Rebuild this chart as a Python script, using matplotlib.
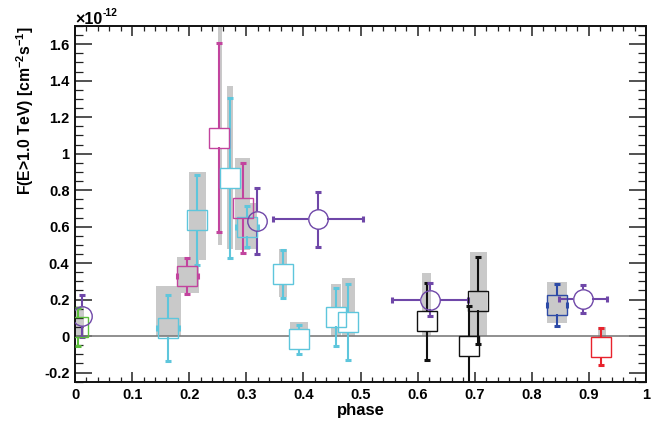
import matplotlib
matplotlib.use('Agg')
import matplotlib.pyplot as plt
from matplotlib.ticker import MultipleLocator, FuncFormatter

plt.rcParams['font.family'] = ['Liberation Sans', 'DejaVu Sans']
plt.rcParams['font.weight'] = 'bold'
plt.rcParams['mathtext.fontset'] = 'custom'
plt.rcParams['mathtext.rm'] = 'Liberation Sans:bold'
plt.rcParams['mathtext.it'] = 'Liberation Sans:bold'
plt.rcParams['mathtext.bf'] = 'Liberation Sans:bold'
plt.rcParams['mathtext.default'] = 'rm'

# ---------------- data (flux in units of 1e-12 cm^-2 s^-1) ----------------
# cyan squares
cyan_phase = [0.163, 0.213, 0.272, 0.301, 0.365, 0.393, 0.457, 0.478]
cyan_flux = [0.046, 0.636, 0.866, 0.600, 0.339, -0.018, 0.106, 0.078]
cyan_err = [0.180, 0.246, 0.439, 0.114, 0.131, 0.079, 0.159, 0.207]
cyan_xerr = [0.019, 0.0, 0.0, 0.019, 0.0, 0.0, 0.0, 0.0]
cyan_sys_x0 = [0.142, 0.199, 0.267, 0.287, 0.358, 0.376, 0.448, 0.468]
cyan_sys_x1 = [0.186, 0.229, 0.276, 0.318, 0.371, 0.408, 0.466, 0.490]
cyan_sys_lo = [0.0, 0.418, 0.48, 0.48, 0.213, -0.05, 0.0, 0.0]
cyan_sys_hi = [0.273, 0.901, 1.373, 0.73, 0.48, 0.076, 0.284, 0.318]
cyan_white = [False, False, True, False, True, True, True, True]

# magenta squares
mag_phase = [0.197, 0.253, 0.294]
mag_flux = [0.329, 1.088, 0.700]
mag_err = [0.098, 0.520, 0.247]
mag_xerr = [0.019, 0.0, 0.0]
mag_sys_x0 = [0.178, 0.251, 0.280]
mag_sys_x1 = [0.217, 0.257, 0.306]
mag_sys_lo = [0.236, 0.50, 0.473]
mag_sys_hi = [0.431, 1.75, 0.974]
mag_white = [False, True, False]

# black squares
blk_phase = [0.6165, 0.6894, 0.7058]
blk_flux = [0.082, -0.055, 0.194]
blk_err = [0.211, 0.222, 0.238]
blk_xerr = [0.0, 0.0, 0.0]
blk_sys_x0 = [0.608, 0.0, 0.692]
blk_sys_x1 = [0.623, 0.0, 0.722]
blk_sys_lo = [0.0, 0.0, 0.0]
blk_sys_hi = [0.345, 0.0, 0.462]
blk_white = [True, True, False]

# green square
grn_phase = [0.006]
grn_flux = [0.051]
grn_err = [0.103]
grn_xerr = [0.0]
grn_sys_x0 = [0.0]
grn_sys_x1 = [0.015]
grn_sys_lo = [0.0]
grn_sys_hi = [0.167]
grn_white = [False]

# blue square
blu_phase = [0.844]
blu_flux = [0.172]
blu_err = [0.115]
blu_xerr = [0.017]
blu_sys_x0 = [0.827]
blu_sys_x1 = [0.861]
blu_sys_lo = [0.07]
blu_sys_hi = [0.294]
blu_white = [False]

# red square
red_phase = [0.9218]
red_flux = [-0.059]
red_err = [0.102]
red_xerr = [0.0]
red_sys_x0 = [0.9165]
red_sys_x1 = [0.930]
red_sys_lo = [-0.06]
red_sys_hi = [0.052]
red_white = [True]

# purple circles
pur_phase = [0.012, 0.318, 0.425, 0.6217, 0.889]
pur_flux = [0.109, 0.630, 0.640, 0.200, 0.203]
pur_err = [0.115, 0.180, 0.150, 0.091, 0.077]
pur_xerr = [0.0, 0.0, 0.079, 0.067, 0.042]

x_ticks = [0, 0.1, 0.2, 0.3, 0.4, 0.5, 0.6, 0.7, 0.8, 0.9, 1.0]
y_ticks = [-0.2, 0, 0.2, 0.4, 0.6, 0.8, 1.0, 1.2, 1.4, 1.6]

# ---------------- style ----------------
CYAN = '#5ec6dc'
MAG = '#c2449e'
BLK = '#111111'
GRN = '#5cbf3c'
BLU = '#2d4aa6'
RED = '#e8232d'
PUR = '#6f47a8'
GRAY = '#c9c9c9'

W, H = 654, 421
fig = plt.figure(figsize=(W / 100, H / 100), dpi=100)
ax_l, ax_r, ax_t, ax_b = 75, 646, 26, 381.7
ax = fig.add_axes([ax_l / W, 1 - ax_b / H, (ax_r - ax_l) / W, (ax_b - ax_t) / H])
XMIN, XMAX, YMIN, YMAX = 0.0, 1.0, -0.25, 1.7
ax.set_xlim(XMIN, XMAX)
ax.set_ylim(YMIN, YMAX)

MS = 14.0  # marker size (pt)
ms_px = MS * 100 / 72
gap_x = (ms_px / 2) * (XMAX - XMIN) / (ax_r - ax_l)
gap_y = (ms_px / 2) * (YMAX - YMIN) / (ax_b - ax_t)

ax.axhline(0, color='#7d7d7d', lw=1.2, zorder=2)


def draw_errors(px, py, ey, ex, color, gx, gy):
    for x, y, e, xe in zip(px, py, ey, ex):
        if e > gy:
            ax.vlines([x, x], [y - e, y + gy], [y - gy, y + e], color=color, lw=1.5, zorder=4)
        ax.plot([x, x], [y - e, y + e], ls='none', marker='_', ms=4, mew=2.2,
                color=color, zorder=4)
        if xe > 0:
            if xe > gx:
                ax.hlines([y, y], [x - xe, x + gx], [x - gx, x + xe], color=color, lw=1.5, zorder=4)
            ax.plot([x - xe, x + xe], [y, y], ls='none', marker='|', ms=4, mew=2.2,
                    color=color, zorder=4)


def draw_squares(px, py, ey, ex, sx0, sx1, slo, shi, white, color):
    for x0, x1, lo, hi in zip(sx0, sx1, slo, shi):
        if x1 > x0 and hi > lo:
            ax.bar(x0, hi - lo, width=x1 - x0, bottom=lo, align='edge',
                   color=GRAY, lw=0, zorder=1)
    for x, y, w in zip(px, py, white):
        if w:
            ax.plot([x], [y], ls='none', marker='s', ms=MS, mfc='white', mec='none', zorder=3)
    draw_errors(px, py, ey, ex, color, gap_x, gap_y)
    ax.plot(px, py, ls='none', marker='s', ms=MS, mfc='none', mec=color, mew=1.0, zorder=5)


draw_squares(grn_phase, grn_flux, grn_err, grn_xerr, grn_sys_x0, grn_sys_x1, grn_sys_lo, grn_sys_hi, grn_white, GRN)
draw_squares(cyan_phase, cyan_flux, cyan_err, cyan_xerr, cyan_sys_x0, cyan_sys_x1, cyan_sys_lo, cyan_sys_hi, cyan_white, CYAN)
draw_squares(mag_phase, mag_flux, mag_err, mag_xerr, mag_sys_x0, mag_sys_x1, mag_sys_lo, mag_sys_hi, mag_white, MAG)
draw_squares(blk_phase, blk_flux, blk_err, blk_xerr, blk_sys_x0, blk_sys_x1, blk_sys_lo, blk_sys_hi, blk_white, BLK)
draw_squares(blu_phase, blu_flux, blu_err, blu_xerr, blu_sys_x0, blu_sys_x1, blu_sys_lo, blu_sys_hi, blu_white, BLU)
draw_squares(red_phase, red_flux, red_err, red_xerr, red_sys_x0, red_sys_x1, red_sys_lo, red_sys_hi, red_white, RED)

draw_errors(pur_phase, pur_flux, pur_err, pur_xerr, PUR, gap_x, gap_y)
ax.plot(pur_phase, pur_flux, ls='none', marker='o', ms=MS, mfc='none', mec=PUR, mew=1.0, zorder=6)

# ---------------- axes ----------------
fmt = FuncFormatter(lambda v, p: '%g' % round(v, 3))
ax.set_xticks(x_ticks)
ax.set_yticks(y_ticks)
ax.xaxis.set_major_formatter(fmt)
ax.yaxis.set_major_formatter(fmt)
ax.xaxis.set_minor_locator(MultipleLocator(0.02))
ax.yaxis.set_minor_locator(MultipleLocator(0.05))
ax.tick_params(which='both', direction='in', top=True, right=True, color='#222222')
ax.tick_params(axis='x', which='major', length=7.2, width=1.1, pad=4.3, labelsize=10.5)
ax.tick_params(axis='x', which='minor', length=3.6, width=0.9)
ax.tick_params(axis='y', which='major', length=12, width=1.1, pad=4, labelsize=10.5)
ax.tick_params(axis='y', which='minor', length=6, width=0.9)
for s in ax.spines.values():
    s.set_linewidth(1.4)
    s.set_color('#111111')

ax.set_xlabel('phase', fontsize=12, fontweight='bold')
ax.xaxis.set_label_coords(0.5, -0.059)
ax.xaxis.label.set_va('top')
ax.set_ylabel(r'F(E>1.0 TeV) [cm$^{-2}$s$^{-1}$]', fontsize=11.3, fontweight='bold', loc='top')
ax.yaxis.set_label_coords(-0.068, 1.0)

fig.text(75 / W, 1 - 24 / H, '×10', fontsize=11.5, fontweight='bold', va='baseline', ha='left')
fig.text(103 / W, 1 - 16 / H, '-12', fontsize=7.5, fontweight='bold', va='baseline', ha='left')

fig.savefig('out.png', dpi=100)
